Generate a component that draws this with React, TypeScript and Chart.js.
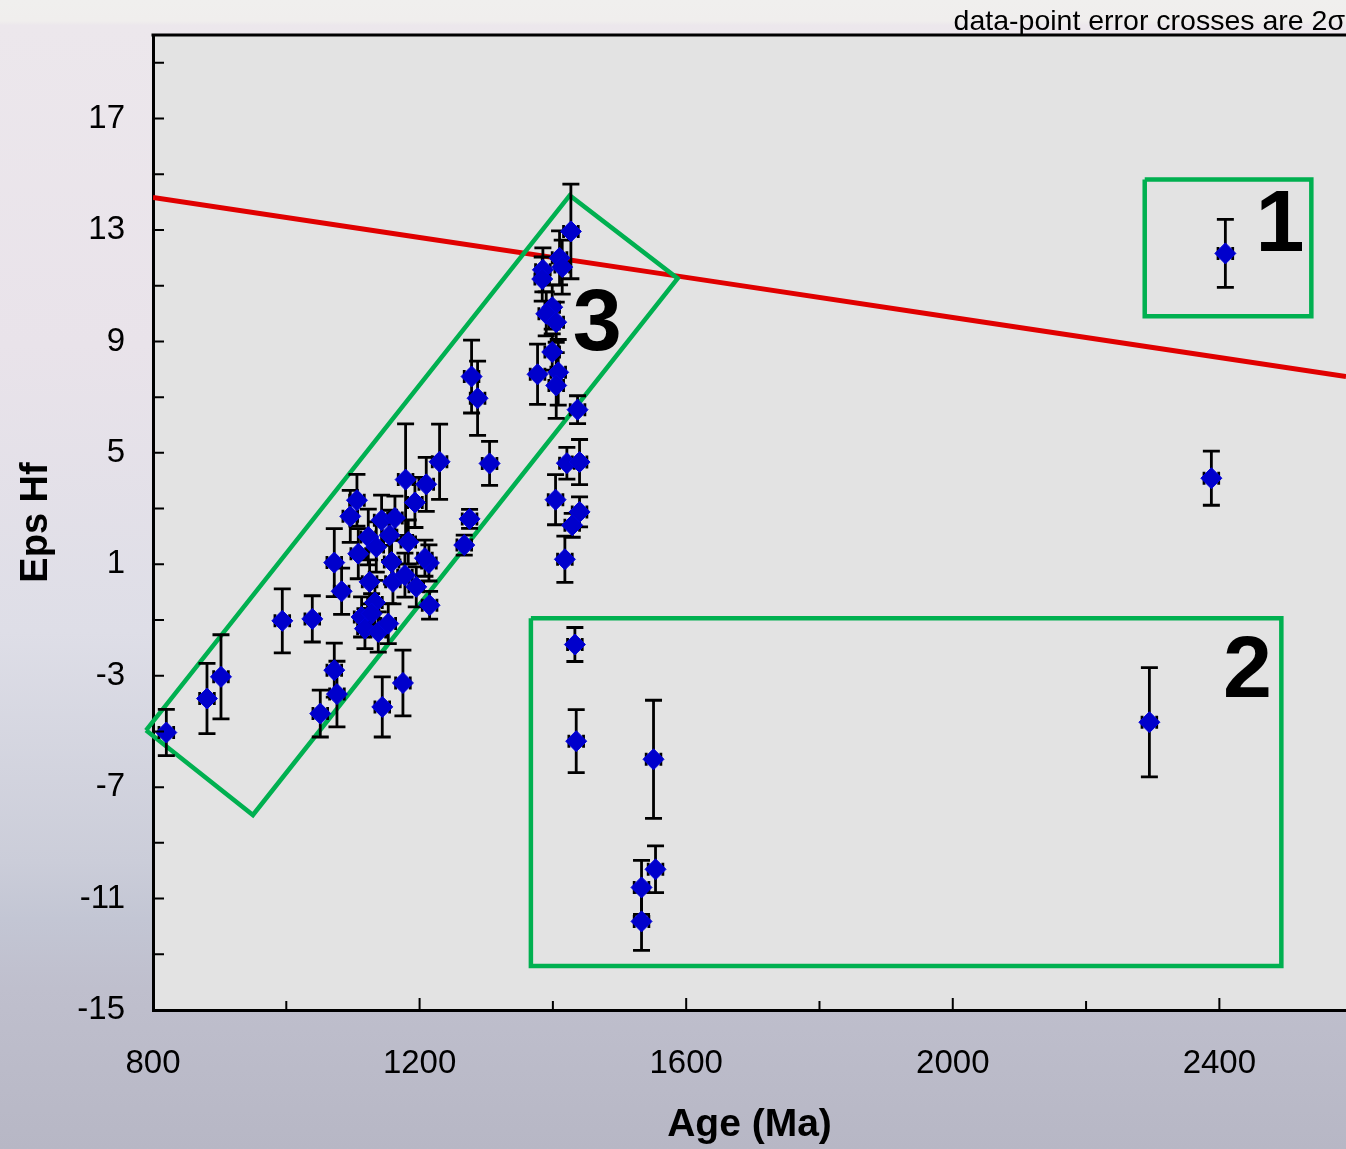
import React, { useEffect, useRef } from 'react';
import { Chart, registerables } from 'chart.js';

Chart.register(...registerables);

// ---- Data ----
const AGE = [
  2409, 2388, 2295, 1433, 1435, 1551, 1554, 1533, 1533,
  820, 881, 902, 994, 1039, 1072, 1076, 1051, 1144, 1175,
  1072, 1083, 1106, 1096, 1179, 1230, 1210, 1193, 1275, 1267,
  1278, 1287, 1305, 1143, 1163, 1155, 1123, 1135, 1108, 1183,
  1158, 1214, 1125, 1160, 1178, 1195, 1215, 1133, 1113, 1118,
  1138, 1153, 1128, 1208,
  1427, 1410, 1414, 1385, 1384, 1399, 1390, 1405, 1399, 1377,
  1408, 1405, 1437, 1421, 1440, 1404, 1440, 1429, 1418,
];
const EPS_HF = [
  12.16, 4.09, -4.67, -1.88, -5.35, -6.0, -9.95, -10.6, -11.82,
  -5.04, -3.82, -3.04, -1.03, -0.96, -2.8, -3.66, -4.36, -4.12, -3.26,
  1.06, 0.03, 3.3, 2.72, 4.04, 4.68, 3.87, 3.22, 2.63, 1.69,
  7.74, 6.96, 4.62, 2.58, 2.66, 2.04, 1.98, 1.62, 1.38, 1.8,
  1.08, 1.05, 0.37, 0.37, 0.61, 0.19, -0.47, -0.37, -0.89, -1.31,
  -1.43, -1.13, -0.77, 1.22,
  12.95, 12.0, 11.67, 11.57, 11.24, 10.23, 9.99, 9.69, 8.62, 7.82,
  7.89, 7.42, 6.55, 4.63, 4.67, 3.32, 2.88, 2.4, 1.18,
];
const EPS_ERR = [
  1.22, 0.97, 1.96, 0.61, 1.13, 2.12, 0.84, 0.97, 1.04,
  0.83, 1.26, 1.51, 1.15, 0.83, 0.97, 1.18, 0.84, 1.08, 1.18,
  1.22, 0.83, 0.93, 0.93, 2.0, 1.35, 0.97, 0.9, 0.34, 0.36,
  1.31, 1.33, 0.79, 0.9, 0.79, 0.9, 1.0, 0.9, 0.9, 0.79,
  0.79, 0.65, 0.79, 0.79, 0.79, 0.72, 0.5, 0.79, 0.72, 0.72,
  0.72, 0.72, 0.72, 0.65,
  1.7, 0.97, 0.97, 0.79, 0.79, 0.79, 0.79, 0.72, 0.65, 1.08,
  1.18, 1.18, 0.5, 0.57, 0.81, 0.9, 0.54, 0.43, 0.83,
];
const AGE_ERR_MA = 11;

// Depleted-mantle reference line
const DM_AGE = [800, 1200, 1600, 2000, 2400, 2590];
const DM_EPS = [14.17, 12.73, 11.3, 9.86, 8.42, 7.74];

// Outlined groups
const BOX1_AGE = [2288, 2538, 2538, 2288, 2288];
const BOX1_EPS = [14.81, 14.81, 9.9, 9.9, 14.81];
const BOX2_AGE = [1367, 2493, 2493, 1367, 1367];
const BOX2_EPS = [-0.94, -0.94, -13.42, -13.42, -0.94];
const BOX3_AGE = [789.5, 1425.3, 1587.2, 949.9, 789.5];
const BOX3_EPS = [-4.96, 14.24, 11.26, -8.0, -4.96];

const GROUP_LABELS = ['1', '2', '3'];
const GROUP_LABEL_AGE = [2491, 2442, 1466.5];
const GROUP_LABEL_EPS = [12.26, -3.77, 8.68];

const X_TICKS = [800, 1200, 1600, 2000, 2400];
const X_MINOR = [800, 1000, 1200, 1400, 1600, 1800, 2000, 2200, 2400];
const Y_TICKS = [-15, -11, -7, -3, 1, 5, 9, 13, 17];
const Y_MINOR = [-15, -13, -11, -9, -7, -5, -3, -1, 1, 3, 5, 7, 9, 11, 13, 15, 17, 19];

const NOTE = 'data-point error crosses are 2\u03c3';
const FONT = '"Liberation Sans", Arial, Helvetica, sans-serif';

const toXY = (xs: number[], ys: number[]) => xs.map((x, i) => ({ x, y: ys[i] }));

const backgroundPlugin = {
  id: 'bgPlugin',
  beforeDraw(chart: any) {
    const { ctx, width, height, chartArea } = chart;
    ctx.save();
    const g = ctx.createLinearGradient(0, 0, 0, height);
    g.addColorStop(0, '#f0efee');
    g.addColorStop(0.018, '#f0eeed');
    g.addColorStop(0.022, '#ece7ec');
    g.addColorStop(0.3, '#e9e3ea');
    g.addColorStop(0.55, '#dedee7');
    g.addColorStop(0.75, '#cbcdd9');
    g.addColorStop(0.8, '#c3c6d4');
    g.addColorStop(0.86, '#bfbfcd');
    g.addColorStop(1, '#b7b7c5');
    ctx.fillStyle = g;
    ctx.fillRect(0, 0, width, height);
    ctx.fillStyle = '#e3e3e3';
    ctx.fillRect(chartArea.left, chartArea.top, chartArea.right - chartArea.left, chartArea.bottom - chartArea.top);
    ctx.restore();
  },
};

const errorBarPlugin = {
  id: 'errorBars',
  beforeDatasetDraw(chart: any, args: any) {
    if (args.index !== 0) return;
    const { ctx } = chart;
    const xs = chart.scales.x;
    const ys = chart.scales.y;
    ctx.save();
    ctx.strokeStyle = '#000000';
    ctx.lineWidth = 2.8;
    ctx.lineCap = 'butt';
    for (let i = 0; i < AGE.length; i++) {
      const x = xs.getPixelForValue(AGE[i]);
      const y = ys.getPixelForValue(EPS_HF[i]);
      const yt = ys.getPixelForValue(EPS_HF[i] + EPS_ERR[i]);
      const yb = ys.getPixelForValue(EPS_HF[i] - EPS_ERR[i]);
      const xl = xs.getPixelForValue(AGE[i] - AGE_ERR_MA);
      const xr = xs.getPixelForValue(AGE[i] + AGE_ERR_MA);
      ctx.beginPath();
      ctx.moveTo(x, yt); ctx.lineTo(x, yb);
      ctx.moveTo(x - 8.5, yt); ctx.lineTo(x + 8.5, yt);
      ctx.moveTo(x - 8.5, yb); ctx.lineTo(x + 8.5, yb);
      ctx.moveTo(xl, y); ctx.lineTo(xr, y);
      ctx.moveTo(xl, y - 6.5); ctx.lineTo(xl, y + 6.5);
      ctx.moveTo(xr, y - 6.5); ctx.lineTo(xr, y + 6.5);
      ctx.stroke();
    }
    ctx.restore();
  },
};

const decorPlugin = {
  id: 'decor',
  afterDraw(chart: any) {
    const { ctx, chartArea } = chart;
    const xs = chart.scales.x;
    const ys = chart.scales.y;
    ctx.save();
    ctx.strokeStyle = '#000000';
    ctx.lineWidth = 2;
    ctx.beginPath();
    for (const v of Y_MINOR) {
      const y = ys.getPixelForValue(v);
      ctx.moveTo(chartArea.left, y);
      ctx.lineTo(chartArea.left + 11, y);
    }
    for (const v of X_MINOR) {
      const x = xs.getPixelForValue(v);
      const len = (v - 800) % 400 === 0 ? 12 : 9;
      ctx.moveTo(x, chartArea.bottom);
      ctx.lineTo(x, chartArea.bottom - len);
    }
    ctx.stroke();
    // top frame line
    ctx.lineWidth = 3;
    ctx.beginPath();
    ctx.moveTo(chartArea.left - 1.5, chartArea.top);
    ctx.lineTo(chartArea.right, chartArea.top);
    ctx.stroke();

    // group numbers
    ctx.fillStyle = '#000000';
    ctx.font = `bold 88px ${FONT}`;
    ctx.textAlign = 'center';
    ctx.textBaseline = 'alphabetic';
    GROUP_LABELS.forEach((t, i) => {
      ctx.fillText(t, xs.getPixelForValue(GROUP_LABEL_AGE[i]), ys.getPixelForValue(GROUP_LABEL_EPS[i]));
    });

    // note
    ctx.font = `28.5px ${FONT}`;
    ctx.textAlign = 'right';
    ctx.fillText(NOTE, 1345, 30);
    ctx.restore();
  },
};

export default function App() {
  const ref = useRef<HTMLCanvasElement>(null);
  useEffect(() => {
    document.body.style.margin = '0';
    if (!ref.current) return;
    const green = '#00b050';
    const chart = new Chart(ref.current, {
      type: 'scatter',
      data: {
        datasets: [
          {
            label: 'zircon',
            data: toXY(AGE, EPS_HF),
            pointStyle: 'rectRot',
            pointRadius: 10.5,
            pointBorderWidth: 1,
            backgroundColor: '#0000cc',
            borderColor: '#0000dd',
            order: 0,
          } as any,
          {
            label: 'DM',
            data: toXY(DM_AGE, DM_EPS),
            showLine: true,
            pointRadius: 0,
            borderColor: '#e00000',
            borderWidth: 5,
            order: 2,
          } as any,
          {
            label: 'g1',
            data: toXY(BOX1_AGE, BOX1_EPS),
            showLine: true,
            pointRadius: 0,
            borderColor: green,
            borderWidth: 4.5,
            order: 1,
            clip: false,
          } as any,
          {
            label: 'g2',
            data: toXY(BOX2_AGE, BOX2_EPS),
            showLine: true,
            pointRadius: 0,
            borderColor: green,
            borderWidth: 4.5,
            order: 1,
            clip: false,
          } as any,
          {
            label: 'g3',
            data: toXY(BOX3_AGE, BOX3_EPS),
            showLine: true,
            pointRadius: 0,
            borderColor: green,
            borderWidth: 4.5,
            order: 1,
            clip: false,
          } as any,
        ],
      },
      options: {
        responsive: false,
        animation: false,
        events: [],
        layout: { autoPadding: false, padding: { top: 35, right: 0, left: 0, bottom: 0 } },
        plugins: { legend: { display: false }, tooltip: { enabled: false } },
        scales: {
          x: {
            type: 'linear',
            min: 800,
            max: 2590,
            afterBuildTicks: (s: any) => { s.ticks = X_TICKS.map((v) => ({ value: v })); },
            afterFit: (s: any) => { s.height = 139; s.paddingLeft = 0; s.paddingRight = 0; },
            ticks: {
              color: '#000',
              font: { family: FONT, size: 33 },
              padding: 34,
              maxRotation: 0,
              autoSkip: false,
              callback: (v: any) => String(v),
            },
            grid: { display: false, drawTicks: false },
            border: { display: true, color: '#000', width: 3 },
            title: {
              display: true,
              text: 'Age (Ma)',
              color: '#000',
              font: { family: FONT, size: 39, weight: 'bold' },
              padding: { top: 0, bottom: 0 },
            },
          },
          y: {
            type: 'linear',
            min: -15,
            max: 20,
            afterBuildTicks: (s: any) => { s.ticks = Y_TICKS.map((v) => ({ value: v })); },
            afterFit: (s: any) => { s.width = 153; s.paddingTop = 0; s.paddingBottom = 0; },
            ticks: {
              color: '#000',
              font: { family: FONT, size: 33 },
              padding: 28,
              autoSkip: false,
              callback: (v: any) => String(v),
            },
            grid: { display: false, drawTicks: false },
            border: { display: true, color: '#000', width: 3 },
            title: {
              display: true,
              text: 'Eps Hf',
              color: '#000',
              font: { family: FONT, size: 38, weight: 'bold' },
              padding: { top: 14, bottom: 0 },
            },
          },
        },
      } as any,
      plugins: [backgroundPlugin, errorBarPlugin, decorPlugin],
    });
    return () => chart.destroy();
  }, []);
  return <canvas ref={ref} width={1346} height={1149} style={{ display: 'block' }} />;
}
